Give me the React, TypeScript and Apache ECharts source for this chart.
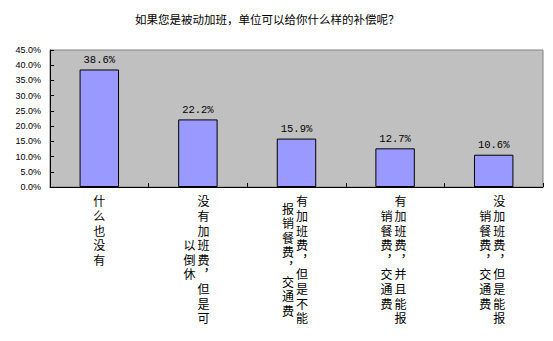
import React, { useEffect, useRef } from 'react';
import * as echarts from 'echarts';

const chartTitle = '如果您是被动加班，单位可以给你什么样的补偿呢？';
const categories = [
  '什么也没有',
  '没有加班费，但是可以倒休',
  '有加班费，但是不能报销餐费，交通费',
  '有加班费，并且能报销餐费，交通费',
  '没加班费，但是能报销餐费，交通费',
];
const values = [38.6, 22.2, 15.9, 12.7, 10.6];
// vertical writing: each label is split into a right column and a left column
const rightColumns = ['什么也没有', '没有加班费，但是可', '有加班费，但是不能', '有加班费，并且能报', '没加班费，但是能报'];
const leftColumns = ['', '以倒休', '报销餐费，交通费', '销餐费，交通费', '销餐费，交通费'];
const yMin = 0;
const yMax = 45;
const yInterval = 5;

const ROW = 14.6;
const CJK = '"Noto Sans CJK SC", "Noto Sans", sans-serif';
// primary Latin font with compact metrics; CJK glyphs fall back to Noto Sans CJK
const LABEL_FONT = '"Liberation Sans", "Noto Sans CJK SC", sans-serif';

const vert = (ch: string) => (ch === '，' ? '︐' : ch);

function formatRight(idx: number): string {
  const r = Array.from(rightColumns[idx] || '');
  const hasLeft = (leftColumns[idx] || '').length > 0;
  const st = hasLeft ? 'r' : 'c';
  return r.map((ch) => `{${st}|${vert(ch)}}`).join('\n');
}

function formatLeft(idx: number): string {
  const l = Array.from(leftColumns[idx] || '');
  if (!l.length) return '';
  const r = Array.from(rightColumns[idx] || '');
  const half = Math.max(0, r.length - l.length);
  const lines: string[] = [];
  if (half > 0) lines.push(`{sp${half}| }`);
  l.forEach((ch) => lines.push(`{l|${vert(ch)}}`));
  return lines.join('\n');
}

const baseChar = { fontSize: 12, lineHeight: ROW, fontFamily: LABEL_FONT, color: '#000' };
const rich: Record<string, any> = {
  c: { ...baseChar },
  r: { ...baseChar, padding: [0, 0, 0, 11] },
  l: { ...baseChar, padding: [0, 17, 0, 0] },
};
for (let k = 1; k <= 16; k++) {
  rich['sp' + k] = { fontSize: 1, lineHeight: (k * ROW) / 2, fontFamily: LABEL_FONT };
}

export default function App() {
  const ref = useRef<HTMLDivElement>(null);
  useEffect(() => {
    if (!ref.current) return;
    const chart = echarts.init(ref.current, undefined, { renderer: 'svg' });
    chart.setOption({
      animation: false,
      backgroundColor: '#ffffff',
      title: {
        text: chartTitle,
        left: 130,
        top: 8,
        textStyle: { fontSize: 11.5, fontWeight: 'normal', color: '#000', fontFamily: CJK },
      },
      grid: {
        left: 50,
        right: 10,
        top: 50,
        bottom: 154,
        show: true,
        backgroundColor: '#C0C0C0',
        borderColor: '#808080',
        borderWidth: 1,
        containLabel: false,
        outerBoundsMode: 'none',
      },
      xAxis: [
        {
          type: 'category',
          data: categories,
          position: 'bottom',
          axisLine: { show: true, lineStyle: { color: '#000', width: 1 } },
          axisTick: { show: true, inside: true, length: 4, lineStyle: { color: '#000' } },
          axisLabel: {
            interval: 0,
            margin: 8,
            formatter: (_v: string, i: number) => formatRight(i),
            rich,
          },
          splitLine: { show: false },
        },
        {
          type: 'category',
          data: categories,
          position: 'bottom',
          axisLine: { show: false },
          axisTick: { show: false },
          axisLabel: {
            interval: 0,
            margin: 8,
            formatter: (_v: string, i: number) => formatLeft(i),
            rich,
          },
          splitLine: { show: false },
        },
      ],
      yAxis: {
        type: 'value',
        min: yMin,
        max: yMax,
        interval: yInterval,
        axisLine: { show: true, lineStyle: { color: '#000', width: 1 } },
        axisTick: { show: true, inside: true, length: 4, lineStyle: { color: '#000' } },
        splitLine: { show: false },
        axisLabel: {
          margin: 9,
          color: '#000',
          fontSize: 9,
          fontFamily: '"Liberation Sans", Arial, sans-serif',
          formatter: (v: number) => v.toFixed(1) + '%',
        },
      },
      series: [
        {
          type: 'bar',
          xAxisIndex: 0,
          data: values,
          barWidth: '40%',
          itemStyle: { color: '#9999FF', borderColor: '#000', borderWidth: 1 },
          label: {
            show: true,
            position: 'top',
            distance: 4,
            color: '#000',
            fontSize: 10.5,
            fontFamily: '"Liberation Mono", monospace',
            formatter: (p: any) => Number(p.value).toFixed(1) + '%',
          },
        },
      ],
    });
    return () => chart.dispose();
  }, []);
  return (
    <div
      ref={ref}
      style={{ position: 'fixed', left: 0, top: 0, width: 553, height: 341, background: '#fff' }}
    />
  );
}
